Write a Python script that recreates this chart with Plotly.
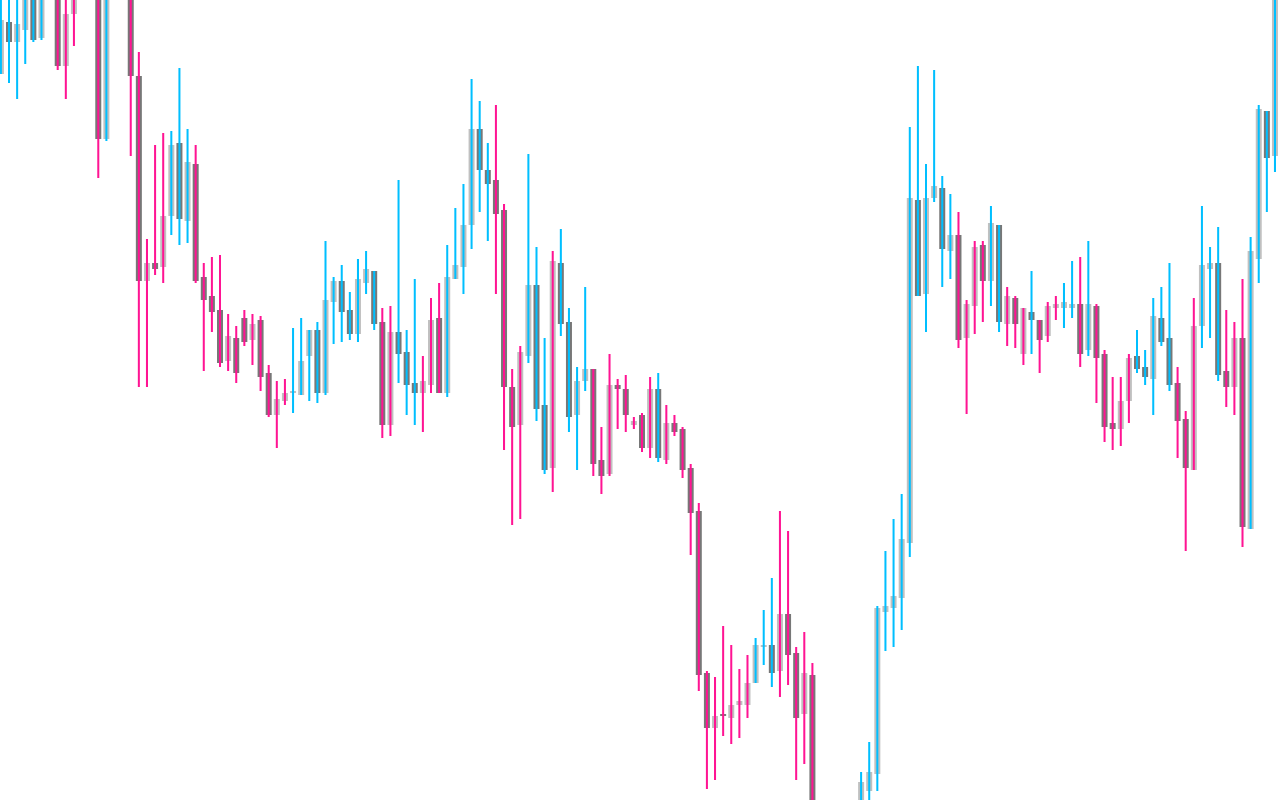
import plotly.graph_objects as go

# OHLC series (arbitrary price units), one entry per bar
open_ = [726, 778, 758, 770, 805, 762, 810, 830, 734, 786, 820, 840, 830, 661, 810, 825, 815, 724, 519, 537,
         533, 584, 657, 579, 636, 523, 504, 490, 439, 462, 482, 460, 480, 427, 385, 399, 407, 405, 444, 470,
         407, 498, 519, 490, 466, 517, 529, 478, 375, 468, 448, 417, 407, 415, 482, 407, 521, 533, 575, 671,
         630, 620, 590, 413, 375, 444, 515, 395, 332, 537, 478, 385, 419, 431, 340, 326, 415, 411, 375, 385,
         352, 411, 340, 377, 371, 332, 289, 127, 72, 86, 82, 95, 95, 117, 153, 155, 129, 186, 147, 86,
         125, -30, -60, -45, -70, -30, -15, 9, 26, 188, 192, 202, 257, 600, 506, 602, 612, 549, 565, 462,
         494, 555, 519, 575, 476, 502, 446, 488, 480, 464, 492, 492, 492, 496, 450, 494, 446, 377, 371, 399,
         444, 433, 421, 482, 462, 417, 381, 330, 474, 531, 537, 429, 413, 462, 271, 541, 689, 644]
high = [810, 815, 808, 820, 825, 830, 850, 840, 810, 830, 860, 870, 840, 820, 850, 845, 830, 748, 561, 655,
        667, 669, 732, 671, 655, 537, 543, 545, 486, 474, 490, 486, 484, 435, 419, 421, 472, 482, 470, 478,
        559, 523, 535, 508, 541, 549, 529, 492, 494, 620, 470, 521, 444, 502, 517, 555, 592, 616, 721, 699,
        657, 695, 596, 431, 454, 646, 553, 462, 549, 571, 492, 433, 513, 431, 373, 446, 421, 425, 383, 387,
        423, 427, 395, 385, 373, 336, 297, 129, 123, 174, 155, 131, 145, 162, 190, 222, 289, 269, 153, 168,
        137, -10, -15, -20, -5, -3, 28, 58, 194, 249, 281, 306, 673, 734, 636, 730, 624, 606, 588, 500,
        559, 559, 594, 575, 513, 504, 492, 529, 480, 498, 504, 517, 539, 543, 559, 496, 450, 423, 423, 446,
        470, 450, 502, 513, 537, 433, 389, 502, 594, 553, 573, 490, 478, 521, 563, 695, 689, 820]
low = [726, 717, 701, 736, 758, 760, 805, 730, 701, 754, 810, 815, 622, 659, 805, 805, 644, 413, 413, 525,
       517, 565, 555, 557, 517, 429, 468, 433, 429, 417, 454, 435, 409, 383, 352, 395, 387, 405, 399, 397,
       405, 456, 458, 460, 458, 506, 470, 362, 364, 417, 385, 375, 368, 407, 407, 403, 521, 506, 551, 588,
       559, 506, 350, 275, 281, 437, 379, 326, 308, 464, 368, 330, 409, 324, 306, 324, 371, 368, 371, 348,
       342, 338, 336, 364, 322, 245, 109, 11, 20, 64, 56, 62, 82, 117, 135, 113, 103, 115, 20, 36,
       -50, -80, -75, -90, -80, -40, -20, -5, 9, 149, 153, 170, 243, 504, 468, 598, 513, 521, 452, 386,
       466, 478, 494, 468, 454, 452, 435, 446, 427, 458, 480, 472, 482, 433, 444, 397, 358, 350, 354, 377,
       427, 415, 385, 454, 409, 342, 249, 330, 452, 462, 419, 393, 385, 253, 271, 517, 588, 628]
close = [780, 758, 776, 805, 760, 810, 830, 734, 786, 820, 840, 830, 661, 810, 825, 815, 724, 519, 537, 531,
         584, 655, 581, 638, 519, 500, 488, 437, 464, 427, 458, 476, 423, 385, 401, 407, 409, 439, 470, 407,
         500, 519, 488, 466, 521, 531, 476, 375, 468, 446, 415, 407, 419, 480, 407, 523, 535, 575, 671, 630,
         616, 586, 413, 373, 448, 515, 391, 330, 539, 476, 383, 419, 431, 336, 324, 415, 411, 385, 379, 352,
         411, 342, 377, 368, 330, 287, 125, 72, 84, 84, 95, 99, 117, 155, 155, 127, 186, 145, 82, 127,
         -30, -60, -45, -70, -30, -15, 18, 28, 192, 194, 204, 261, 602, 504, 602, 614, 551, 565, 460, 496,
         553, 519, 577, 478, 504, 476, 492, 480, 460, 494, 496, 498, 496, 446, 496, 442, 373, 371, 399, 442,
         431, 423, 484, 458, 415, 379, 332, 474, 535, 537, 425, 413, 462, 273, 549, 691, 642, 810]
# trend signal per bar: 1 = bullish, -1 = bearish
trend = [1, 1, 1, 1, 1, 1, -1, -1, -1, -1, -1, -1, -1, 1, 1, -1, -1, -1, -1, -1,
         -1, 1, 1, 1, -1, -1, -1, -1, -1, -1, -1, -1, -1, -1, -1, -1, 1, 1, 1, 1,
         1, 1, 1, 1, 1, 1, 1, -1, -1, 1, 1, 1, -1, -1, -1, 1, 1, 1, 1, 1,
         1, -1, -1, -1, -1, 1, 1, 1, -1, 1, 1, 1, 1, -1, -1, -1, -1, -1, -1, -1,
         -1, 1, -1, -1, -1, -1, -1, -1, -1, -1, -1, -1, -1, 1, 1, 1, -1, -1, -1, -1,
         -1, -1, -1, -1, 1, 1, 1, 1, 1, 1, 1, 1, 1, 1, 1, 1, 1, 1, -1, -1,
         -1, -1, 1, 1, -1, -1, -1, 1, -1, -1, -1, 1, 1, -1, 1, -1, -1, -1, -1, -1,
         1, 1, 1, 1, 1, -1, -1, -1, 1, 1, 1, -1, -1, -1, 1, 1, 1, 1]

x = list(range(len(open_)))

BODY_UP, BODY_DOWN = "#c0c0c0", "#777777"
WICK_UP, WICK_DOWN = "#00bfff", "#ff1493"

body_base = [min(o, c) for o, c in zip(open_, close)]
body_h = [max(abs(c - o), 1) for o, c in zip(open_, close)]
body_col = [BODY_UP if c >= o else BODY_DOWN for o, c in zip(open_, close)]
wick_h = [h - l for h, l in zip(high, low)]
wick_col = [WICK_UP if t > 0 else WICK_DOWN for t in trend]

fig = go.Figure()
fig.add_trace(go.Bar(x=x, y=body_h, base=body_base, width=0.74,
                     marker=dict(color=body_col, line=dict(width=0)), hoverinfo="skip"))
fig.add_trace(go.Bar(x=x, y=wick_h, base=low, width=0.25,
                     marker=dict(color=wick_col, line=dict(width=0)), hoverinfo="skip"))

fig.update_layout(
    width=1280, height=800, margin=dict(l=0, r=0, t=0, b=0),
    barmode="overlay", showlegend=False,
    plot_bgcolor="white", paper_bgcolor="white",
    xaxis=dict(range=[-0.111, 157.62], visible=False, showgrid=False, zeroline=False),
    yaxis=dict(range=[0, 800], visible=False, showgrid=False, zeroline=False),
)

fig.write_html("out.html", config={"displayModeBar": False},
               post_script="document.body.style.margin='0';document.body.style.overflow='hidden';")
